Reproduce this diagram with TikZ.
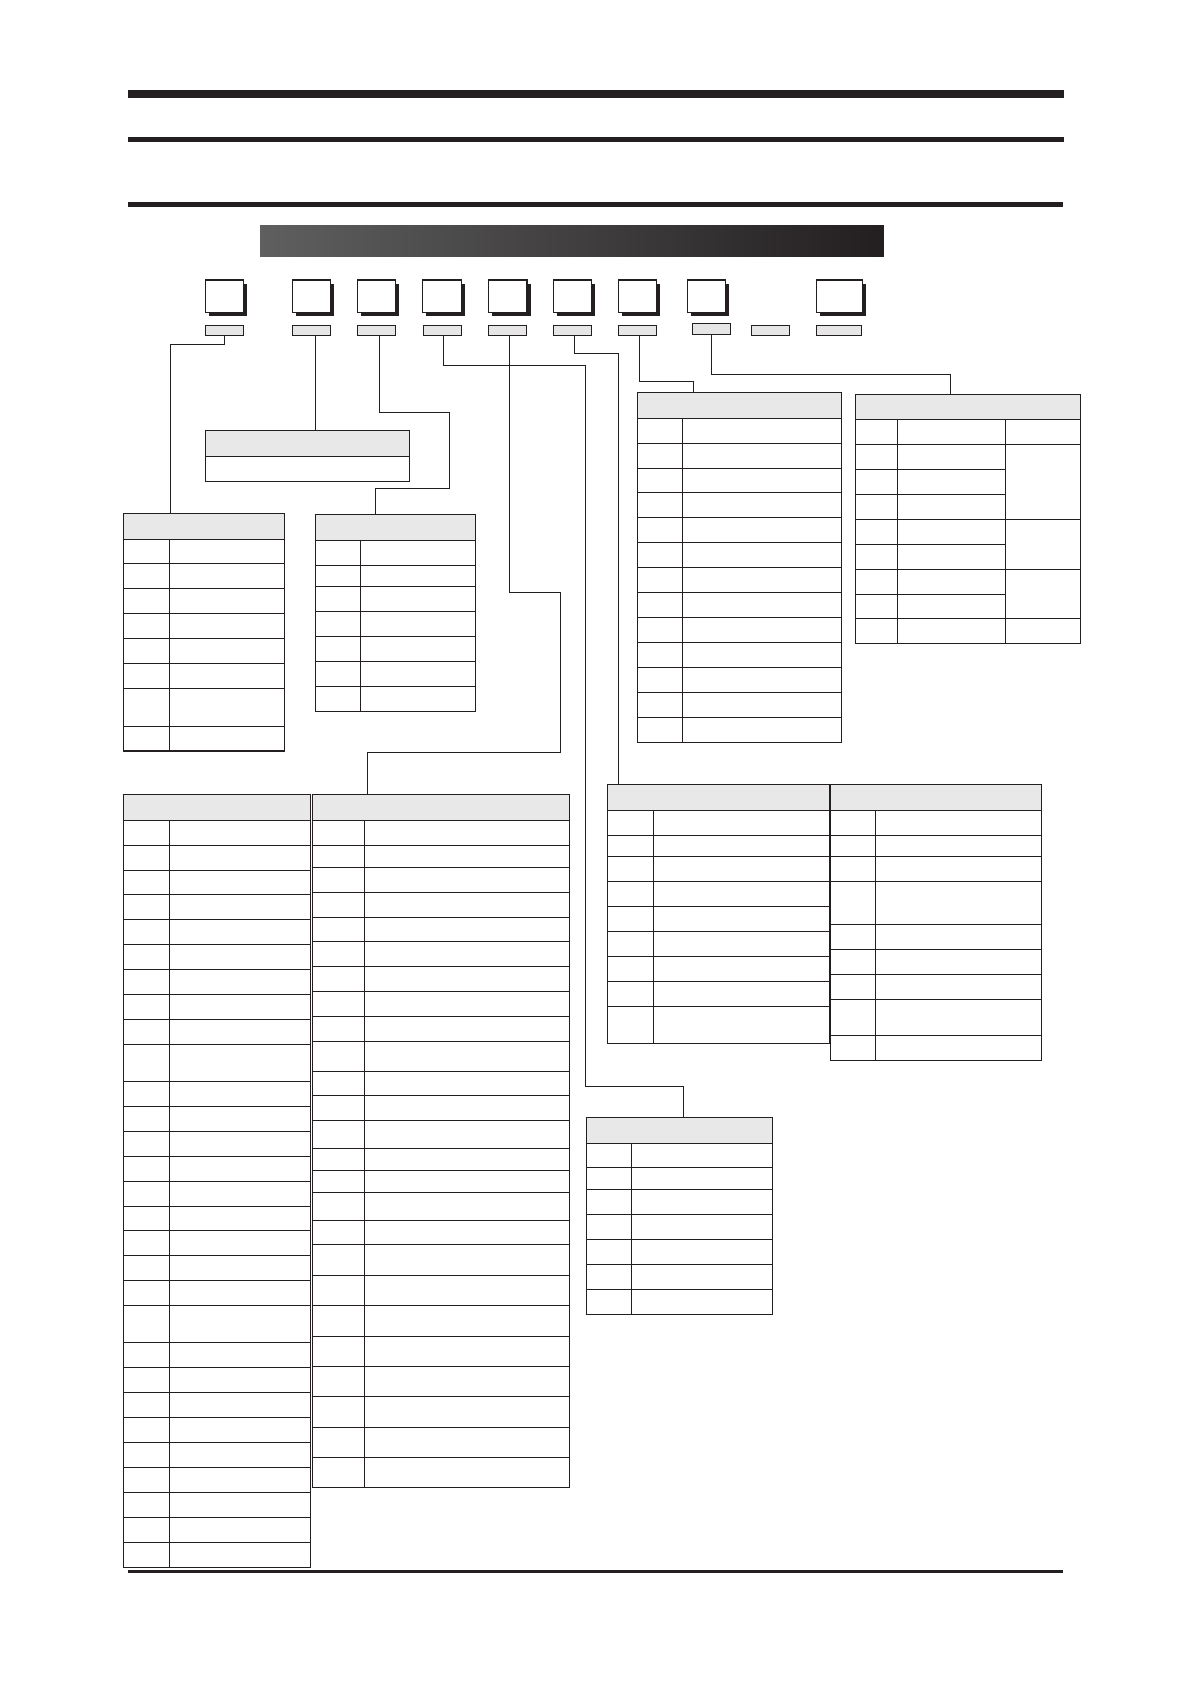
\documentclass[tikz,border=0pt]{standalone}
\usetikzlibrary{shadows,calc}
\definecolor{ink}{HTML}{231F20}
\definecolor{hdrgray}{HTML}{E8E8E8}
\definecolor{lblgray}{HTML}{E6E6E6}
\definecolor{gradL}{HTML}{5F5F5F}
\tikzset{
  tline/.style={draw=ink, line width=1.3pt},
  conn/.style={draw=ink, line width=1pt},
  rule/.style={fill=ink},
  sqbox/.style={draw=ink, fill=white, line width=1.2pt, inner sep=0pt, outer sep=0pt,
    minimum width=38.5pt, minimum height=32.3pt,
    drop shadow={shadow xshift=3.6pt, shadow yshift=-3.6pt, fill=ink, opacity=1}},
  lblbox/.style={draw=ink, fill=lblgray, line width=1pt, inner sep=0pt, outer sep=0pt,
    minimum width=38pt, minimum height=10.4pt}
}
\newcommand{\gridtable}[7]{%
  \fill[hdrgray] (#1,#4) rectangle (#3,#5);
  \draw[tline] (#1,#5) -- (#3,#5);
  \foreach \yy in {#6} {\draw[tline] (#1,\yy) -- (#3,\yy);}
  \draw[tline] (#2,#5) -- (#2,#7);
  \draw[tline] (#1,#4) rectangle (#3,#7);
}
\begin{document}
\begin{tikzpicture}[x=1pt,y=-1pt]
\useasboundingbox[fill=white] (0,0) rectangle (1191,1684);
% rules
\fill[rule] (128,90) rectangle (1064.3,97.7);
\fill[rule] (128,136.7) rectangle (1064.3,141.7);
\fill[rule] (128,202) rectangle (1063,207);
\fill[rule] (128,1569.5) rectangle (1063,1572.8);
% gradient bar
\shade[left color=gradL, right color=ink] (260,225.7) rectangle (883.8,256.7);
% squares
\node[sqbox] (s1) at (224.4,296.2) {};
\node[sqbox] (s2) at (311.5,296.2) {};
\node[sqbox] (s3) at (376.6,296.2) {};
\node[sqbox] (s4) at (442.0,296.2) {};
\node[sqbox] (s5) at (507.7,296.2) {};
\node[sqbox] (s6) at (572.4,296.2) {};
\node[sqbox] (s7) at (637.4,296.2) {};
\node[sqbox] (s8) at (706.6,296.2) {};
\node[sqbox, minimum width=45.5pt] (s9) at (839.4,296.2) {};
% label boxes
\node[lblbox] (l1) at (224.4,330.5) {};
\node[lblbox] (l2) at (311.5,330.5) {};
\node[lblbox] (l3) at (376.8,330.5) {};
\node[lblbox] (l4) at (442.5,330.5) {};
\node[lblbox] (l5) at (507.5,330.5) {};
\node[lblbox] (l6) at (572.4,330.5) {};
\node[lblbox] (l7) at (637.4,330.5) {};
\node[lblbox] (l8) at (711.5,328.9) {};
\node[lblbox] (l9) at (770.4,330.5) {};
\node[lblbox, minimum width=45pt] (l10) at (839.2,330.5) {};
% tables
% A
\gridtable{123.3}{169.3}{284.3}{513.3}{539.3}{563.3,588.3,613.3,638.3,663.3,688.3,726.3}{751}
% B
\fill[hdrgray] (205.3,430.3) rectangle (409.7,456.3);
\draw[tline] (205.3,456.3) -- (409.7,456.3);
\draw[tline] (205.3,430.3) rectangle (409.7,481.3);
% C
\gridtable{315.3}{360.3}{475.7}{514.3}{540.3}{565.3,586.3,611.3,636.3,661.3,686.3}{711.3}
% D
\gridtable{637.3}{682.3}{841.3}{392.3}{418.3}{443.3,468.3,492.3,517.3,542.3,567.3,592.3,617.3,642.3,667.3,692.3,717.3}{742.3}
% E (three columns)
\fill[hdrgray] (855.3,394.3) rectangle (1080.3,419.3);
\draw[tline] (855.3,419.3) -- (1080.3,419.3);
\foreach \yy in {444.3,469.3,494.3,519.3,544.3,569.3,594.3,618.3}
  {\draw[tline] (855.3,\yy) -- (1005.3,\yy);}
\foreach \yy in {444.3,519.3,569.3,618.3}
  {\draw[tline] (1005.3,\yy) -- (1080.3,\yy);}
\draw[tline] (897.3,419.3) -- (897.3,643.3);
\draw[tline] (1005.3,419.3) -- (1005.3,643.3);
\draw[tline] (855.3,394.3) rectangle (1080.3,643.3);
% F
\gridtable{123.3}{169.3}{310.3}{794.3}{820.3}{845.3,870.3,894.3,919.3,944.3,969.3,994.3,1019.3,1044.3,1081.3,1106.3,1131.3,1156.3,1181.3,1206.3,1230.3,1255.3,1280.3,1305.3,1342.3,1367.3,1392.3,1417.3,1442.3,1467.3,1492.3,1517.3,1542.3}{1567.3}
% G
\gridtable{312.3}{364.3}{569.3}{794.3}{820.3}{845.3,867.3,892.3,917.3,941.3,966.3,991.3,1016.3,1041.3,1071.3,1095.3,1120.3,1148.3,1170.3,1192.3,1220.3,1244.3,1275.3,1305.3,1336.3,1366.3,1396.3,1427.3,1457.3}{1487.3}
% H
\gridtable{586.3}{631.3}{772.7}{1117.3}{1143.3}{1167.3,1189.3,1214.3,1239.3,1264.3,1289.3}{1314.3}
% I
\gridtable{607.3}{653.3}{829.3}{784.3}{810.3}{835.3,856.3,881.3,906.3,931.3,956.3,981.3,1006.3}{1043.3}
% J
\gridtable{830.3}{875.3}{1041.7}{784.3}{810.3}{835.3,856.3,881.3,924.3,949.3,974.3,999.3,1035.3}{1060.3}
% connector end points on the tables
\coordinate (eA) at (170.3,513.3);
\coordinate (eB) at (315.3,430.3);
\coordinate (eC) at (375.3,514.3);
\coordinate (eH) at (683.7,1117.3);
\coordinate (eG) at (367.3,794.3);
\coordinate (eI) at (618.3,784.3);
\coordinate (eD) at (693.3,392.3);
\coordinate (eE) at (950.3,394.3);
% connectors
\draw[conn] ([xshift=0.2pt]l1.south) |- (170.3,344.3) -- (eA);
\draw[conn] ([xshift=3.8pt]l2.south) -- (eB);
\draw[conn] ([xshift=2.3pt]l3.south) |- (449.3,412.3) |- (375.3,488.3) -- (eC);
\draw[conn] ([xshift=0.9pt]l4.south) |- (585.7,365.3) |- (683.7,1086) -- (eH);
\draw[conn] ([xshift=1.5pt]l5.south) |- (560.7,592.3) |- (367.3,752) -- (eG);
\draw[conn] ([xshift=2.2pt]l6.south) |- (618.3,353.3) -- (eI);
\draw[conn] ([xshift=2pt]l7.south) |- (693.3,381) -- (eD);
\draw[conn] ([xshift=-0.3pt]l8.south) |- (950.3,374.3) -- (eE);
\end{tikzpicture}
\end{document}
